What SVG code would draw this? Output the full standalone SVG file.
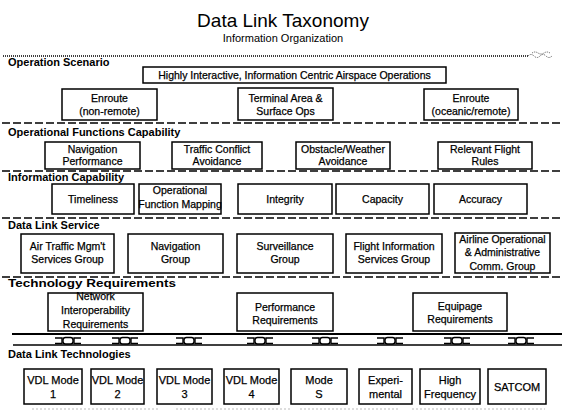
<svg xmlns="http://www.w3.org/2000/svg" width="562" height="415" viewBox="0 0 562 415">
<style>
text{font-family:"Liberation Sans",Arial,sans-serif;fill:#000}
.t{font-size:10.5px;text-anchor:middle;stroke:#000;stroke-width:0.25}
.t6{font-size:11px;text-anchor:middle;stroke:#000;stroke-width:0.25}
.sec{font-size:11px;font-weight:bold}
.box{fill:#fff;stroke:#000;stroke-width:1.5}
.dash{stroke:#000;stroke-width:1.3;stroke-dasharray:8 3;fill:none}
.bus{stroke:#000;fill:none}
.cpl{fill:#fff;stroke:#000;stroke-width:1.4}
</style>
<defs>
<g id="coupler">
<path class="bus" stroke-width="1.4" d="M-13 338H-6V343.5H-13M13 338H6V343.5H13"/>
<rect class="cpl" x="-5" y="337.5" width="10" height="6.5" rx="2.5"/>
</g>
</defs>
<rect width="562" height="415" fill="#fff"/>
<g id="title">
<text x="283" y="27" font-size="19" text-anchor="middle">Data Link Taxonomy</text>
<text x="283" y="42" font-size="11" text-anchor="middle">Information Organization</text>
</g>
<g id="separators">
<line x1="3" y1="56" x2="528" y2="56" stroke="#000" stroke-width="1.3" stroke-dasharray="1 1"/>
<path d="M528 56q3-3 6 0t6 0t6 0t6 0M532 53q3-2 6 0t6 0t6 0" fill="none" stroke="#555" stroke-width="1" stroke-dasharray="1 1"/>
<line class="dash" x1="2" y1="123" x2="562" y2="123"/>
<line class="dash" x1="2" y1="171" x2="562" y2="171"/>
<line class="dash" x1="2" y1="218" x2="562" y2="218"/>
<line class="dash" x1="2" y1="277" x2="562" y2="277"/>
<path d="M32 409H160M176 409H290M300 409H400M412 409H545" stroke="#bbb" stroke-width="1" stroke-dasharray="2 2"/>
</g>
<g id="labels">
<text class="sec" x="8" y="66">Operation Scenario</text>
<text class="sec" x="8" y="136">Operational Functions Capability</text>
<text class="sec" x="8" y="181">Information Capability</text>
<text class="sec" x="8" y="229">Data Link Service</text>
<text class="sec" x="8" y="287" textLength="168" lengthAdjust="spacingAndGlyphs">Technology Requirements</text>
<text class="sec" x="8" y="358">Data Link Technologies</text>
</g>
<g id="n-highly"><rect class="box" x="143" y="67" width="303" height="16"/><text class="t" x="294.5" y="79">Highly Interactive, Information Centric Airspace Operations</text></g>
<g id="n-enroute-nr"><rect class="box" x="62" y="89" width="95" height="31"/><text class="t" x="109.5" y="102">Enroute</text><text class="t" x="109.5" y="115">(non-remote)</text></g>
<g id="n-terminal"><rect class="box" x="238" y="88" width="95" height="32"/><text class="t" x="285.5" y="102">Terminal Area &amp;</text><text class="t" x="285.5" y="115">Surface Ops</text></g>
<g id="n-enroute-oc"><rect class="box" x="424" y="89" width="94" height="31"/><text class="t" x="471" y="102">Enroute</text><text class="t" x="471" y="115">(oceanic/remote)</text></g>

<g id="n-navperf"><rect class="box" x="45" y="142" width="95" height="27"/><text class="t" x="92.5" y="153">Navigation</text><text class="t" x="92.5" y="165">Performance</text></g>
<g id="n-traffic"><rect class="box" x="172" y="142" width="90" height="27"/><text class="t" x="217" y="153">Traffic Conflict</text><text class="t" x="217" y="165">Avoidance</text></g>
<g id="n-obstacle"><rect class="box" x="296" y="142" width="94" height="27"/><text class="t" x="343" y="153">Obstacle/Weather</text><text class="t" x="343" y="165">Avoidance</text></g>
<g id="n-rules"><rect class="box" x="438" y="142" width="94" height="27"/><text class="t" x="485" y="153">Relevant Flight</text><text class="t" x="485" y="165">Rules</text></g>

<g id="n-timeliness"><rect class="box" x="52" y="184" width="82" height="30"/><text class="t" x="93" y="203">Timeliness</text></g>
<g id="n-opfunc"><rect class="box" x="139" y="184" width="82" height="30"/><text class="t" x="180" y="194" font-size="10">Operational</text><text class="t" x="180" y="208" font-size="10">Function Mapping</text></g>
<g id="n-integrity"><rect class="box" x="238" y="184" width="94" height="30"/><text class="t" x="285" y="203">Integrity</text></g>
<g id="n-capacity"><rect class="box" x="336" y="184" width="93" height="30"/><text class="t" x="382.5" y="203">Capacity</text></g>
<g id="n-accuracy"><rect class="box" x="434" y="184" width="93" height="30"/><text class="t" x="480.5" y="203">Accuracy</text></g>

<g id="n-atm"><rect class="box" x="21" y="234" width="93" height="39"/><text class="t" x="67.5" y="250">Air Traffic Mgm't</text><text class="t" x="67.5" y="263">Services Group</text></g>
<g id="n-navgroup"><rect class="box" x="128" y="234" width="95" height="39"/><text class="t" x="175.5" y="250">Navigation</text><text class="t" x="175.5" y="263">Group</text></g>
<g id="n-surv"><rect class="box" x="237" y="234" width="96" height="39"/><text class="t" x="285" y="250">Surveillance</text><text class="t" x="285" y="263">Group</text></g>
<g id="n-fis"><rect class="box" x="346" y="234" width="96" height="39"/><text class="t" x="394" y="250">Flight Information</text><text class="t" x="394" y="263">Services Group</text></g>
<g id="n-airline"><rect class="box" x="455" y="233" width="95" height="40"/><text class="t" x="502.5" y="243">Airline Operational</text><text class="t" x="502.5" y="256">&amp; Administrative</text><text class="t" x="502.5" y="269.5">Comm. Group</text></g>

<g id="n-network"><rect class="box" x="48" y="293" width="95" height="38"/><text class="t" x="95.5" y="300">Network</text><text class="t" x="95.5" y="314">Interoperability</text><text class="t" x="95.5" y="327.5">Requirements</text></g>
<g id="n-perf"><rect class="box" x="237" y="293" width="96" height="38"/><text class="t" x="285" y="311">Performance</text><text class="t" x="285" y="324">Requirements</text></g>
<g id="n-equip"><rect class="box" x="413" y="293" width="94" height="38"/><text class="t" x="460" y="310">Equipage</text><text class="t" x="460" y="323">Requirements</text></g>

<g id="connectors">
<line class="bus" stroke-width="2.2" x1="12" y1="334" x2="562" y2="334"/>
<line class="bus" stroke-width="1.5" x1="13" y1="345" x2="562" y2="345"/>
<use href="#coupler" x="68"/>
<use href="#coupler" x="125"/>
<use href="#coupler" x="189"/>
<use href="#coupler" x="260"/>
<use href="#coupler" x="325"/>
<use href="#coupler" x="390"/>
<use href="#coupler" x="457"/>
<use href="#coupler" x="521"/>
</g>

<g id="n-vdl1"><rect class="box" x="24" y="369" width="58" height="35"/><text class="t6" x="53" y="384">VDL Mode</text><text class="t6" x="53" y="398">1</text></g>
<g id="n-vdl2"><rect class="box" x="91" y="369" width="53" height="35"/><text class="t6" x="117.5" y="384">VDL Mode</text><text class="t6" x="117.5" y="398">2</text></g>
<g id="n-vdl3"><rect class="box" x="157" y="369" width="55" height="35"/><text class="t6" x="184.5" y="384">VDL Mode</text><text class="t6" x="184.5" y="398">3</text></g>
<g id="n-vdl4"><rect class="box" x="224" y="369" width="55" height="35"/><text class="t6" x="251.5" y="384">VDL Mode</text><text class="t6" x="251.5" y="398">4</text></g>
<g id="n-modes"><rect class="box" x="291" y="369" width="56" height="35"/><text class="t6" x="319" y="384">Mode</text><text class="t6" x="319" y="398">S</text></g>
<g id="n-exp"><rect class="box" x="359" y="369" width="53" height="35"/><text class="t6" x="385.5" y="384">Experi-</text><text class="t6" x="385.5" y="398">mental</text></g>
<g id="n-hf"><rect class="box" x="420" y="369" width="60" height="35"/><text class="t6" x="450" y="384">High</text><text class="t6" x="450" y="398">Frequency</text></g>
<g id="n-satcom"><rect class="box" x="488" y="369" width="58" height="35"/><text class="t6" x="517" y="390.5">SATCOM</text></g>
</svg>
